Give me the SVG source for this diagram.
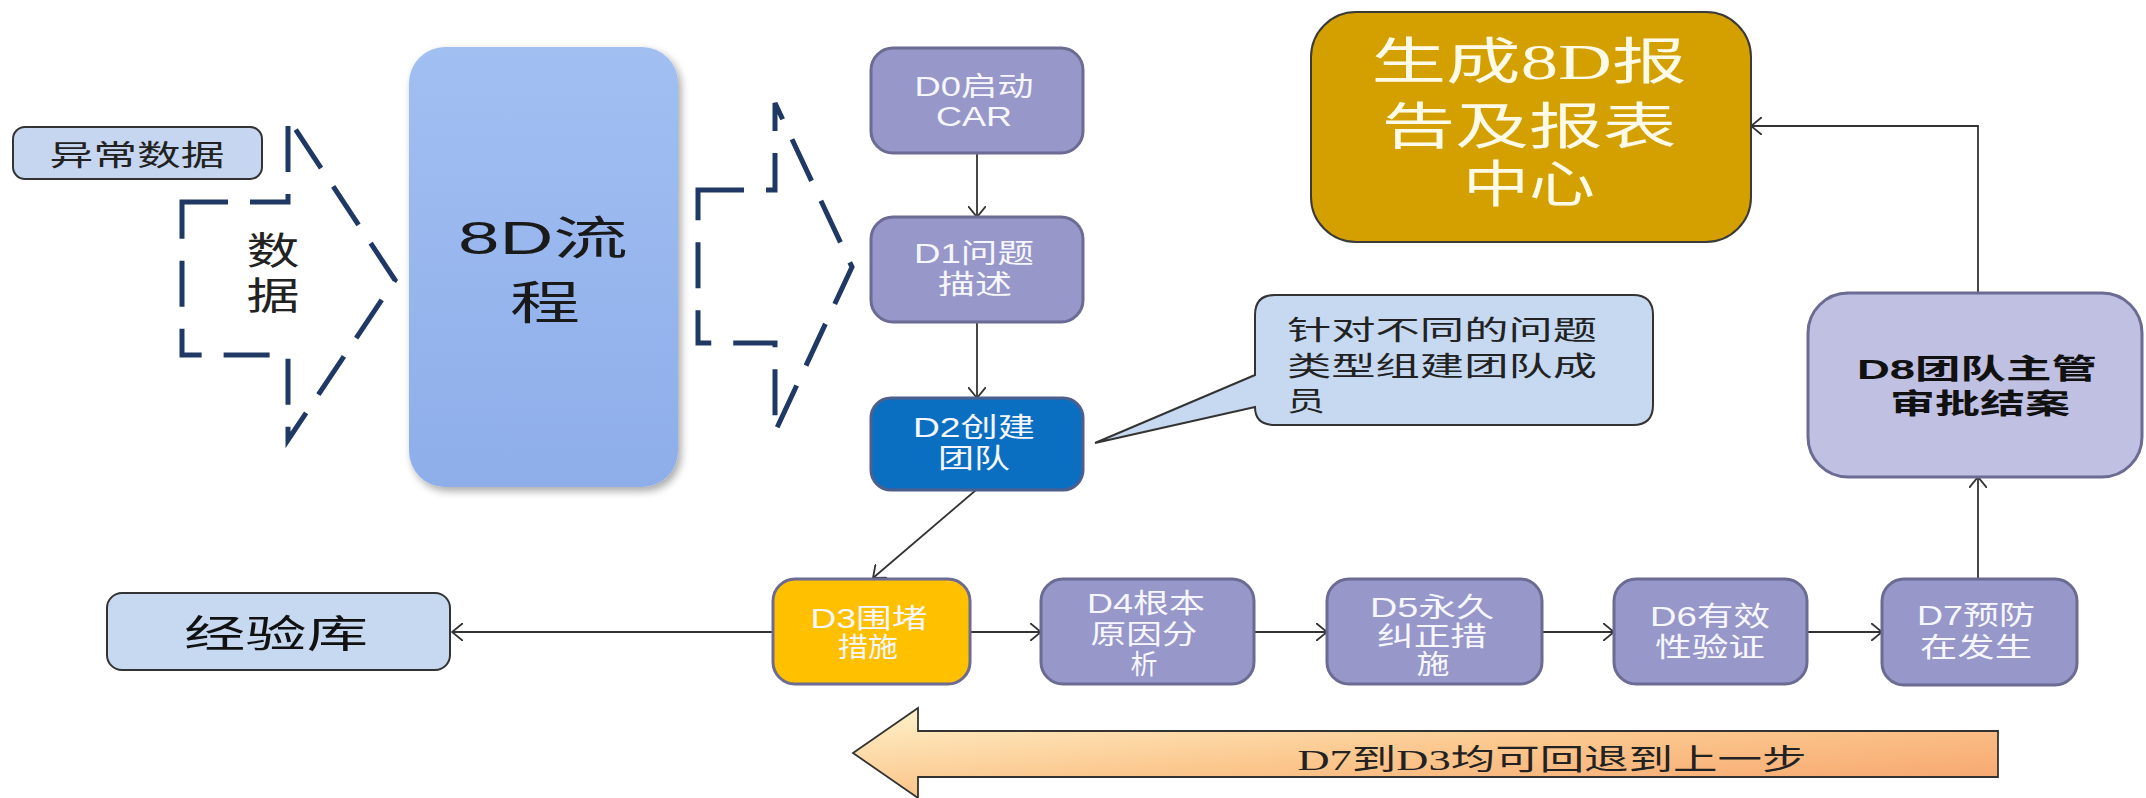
<svg xmlns="http://www.w3.org/2000/svg" width="2146" height="798" viewBox="0 0 2146 798">
<style>
.sans{font-family:"Liberation Sans","Noto Sans CJK SC",sans-serif}
.serif{font-family:"Liberation Serif","Noto Sans CJK SC",serif}
.wt{fill:#f6f6ff;font-size:27px;text-anchor:middle}
.pur{fill:#9797c9;stroke:#6b6b93;stroke-width:3}
.conn{stroke:#333;stroke-width:1.8;fill:none}
.dash{stroke:#1f3864;stroke-width:5;fill:none;stroke-dasharray:46 22;stroke-linejoin:miter}
</style>
<defs>
<marker id="ah" viewBox="0 0 12 18" refX="11" refY="9" markerWidth="12" markerHeight="18" markerUnits="userSpaceOnUse" orient="auto">
<path d="M0,0 L11,9 L0,18" fill="none" stroke="#333" stroke-width="1.8"/>
</marker>
<linearGradient id="g8d" x1="0" y1="0" x2="0" y2="1">
<stop offset="0" stop-color="#a2bff2"/>
<stop offset="1" stop-color="#8eaeea"/>
</linearGradient>
<linearGradient id="gbig" x1="0" y1="0" x2="1" y2="1">
<stop offset="0" stop-color="#fff3cc"/>
<stop offset="0.5" stop-color="#fbc68c"/>
<stop offset="1" stop-color="#f6a06a"/>
</linearGradient>
<filter id="sh" x="-10%" y="-10%" width="130%" height="130%">
<feGaussianBlur in="SourceAlpha" stdDeviation="4"/>
<feOffset dx="3" dy="4" result="b"/>
<feComponentTransfer><feFuncA type="linear" slope="0.35"/></feComponentTransfer>
<feMerge><feMergeNode/><feMergeNode in="SourceGraphic"/></feMerge>
</filter>
</defs>
<rect width="2146" height="798" fill="#fff"/>

<g id="connectors">
<line class="conn" x1="977" y1="153" x2="977" y2="217" marker-end="url(#ah)"/>
<line class="conn" x1="977" y1="322" x2="977" y2="398" marker-end="url(#ah)"/>
<line class="conn" x1="976" y1="490" x2="873" y2="578" marker-end="url(#ah)"/>
<line class="conn" x1="773" y1="632" x2="452" y2="632" marker-end="url(#ah)"/>
<line class="conn" x1="970" y1="632" x2="1041" y2="632" marker-end="url(#ah)"/>
<line class="conn" x1="1254" y1="632" x2="1327" y2="632" marker-end="url(#ah)"/>
<line class="conn" x1="1542" y1="632" x2="1614" y2="632" marker-end="url(#ah)"/>
<line class="conn" x1="1807" y1="632" x2="1882" y2="632" marker-end="url(#ah)"/>
<line class="conn" x1="1978" y1="580" x2="1978" y2="477" marker-end="url(#ah)"/>
<path class="conn" d="M1978,293 V126 H1751" marker-end="url(#ah)"/>
</g>

<g id="abnormal-data">
<rect x="13" y="127" width="249" height="52" rx="12" fill="#c6d6f0" stroke="#333" stroke-width="2"/>
<text class="sans" x="137" y="166" font-size="29" fill="#222" text-anchor="middle" textLength="175" lengthAdjust="spacingAndGlyphs">异常数据</text>
</g>

<g id="data-arrow">
<polygon class="dash" points="182,202 288,202 288,118 395,280 288,440 288,355 182,355"/>
<text class="sans" x="273" y="264" font-size="38" fill="#222" text-anchor="middle" textLength="53" lengthAdjust="spacingAndGlyphs">数</text>
<text class="sans" x="273" y="309" font-size="38" fill="#222" text-anchor="middle" textLength="53" lengthAdjust="spacingAndGlyphs">据</text>
</g>

<g id="process-8d">
<rect x="409" y="47" width="269" height="440" rx="36" fill="url(#g8d)" filter="url(#sh)"/>
<text class="sans" x="543" y="254" font-size="46" fill="#1a1a1a" text-anchor="middle" textLength="170" lengthAdjust="spacingAndGlyphs">8D流</text>
<text class="sans" x="545" y="319" font-size="46" fill="#1a1a1a" text-anchor="middle" textLength="70" lengthAdjust="spacingAndGlyphs">程</text>
</g>

<g id="steps-arrow">
<polygon class="dash" points="698,190 775,190 775,103 852,267 775,432 775,343 698,343"/>
</g>

<g id="d0">
<rect class="pur" x="871" y="48" width="212" height="105" rx="22"/>
<text class="sans wt" x="974" y="96" textLength="119" lengthAdjust="spacingAndGlyphs">D0启动</text>
<text class="sans wt" x="974" y="126" textLength="76" lengthAdjust="spacingAndGlyphs">CAR</text>
</g>

<g id="d1">
<rect class="pur" x="871" y="217" width="212" height="105" rx="22"/>
<text class="sans wt" x="974" y="263" textLength="120" lengthAdjust="spacingAndGlyphs">D1问题</text>
<text class="sans wt" x="975" y="294" textLength="74" lengthAdjust="spacingAndGlyphs">描述</text>
</g>

<g id="d2">
<rect x="871" y="398" width="212" height="92" rx="20" fill="#0b6fc1" stroke="#4d5f8c" stroke-width="3"/>
<text class="sans wt" x="974" y="437" textLength="122" lengthAdjust="spacingAndGlyphs">D2创建</text>
<text class="sans wt" x="974" y="468" textLength="72" lengthAdjust="spacingAndGlyphs">团队</text>
</g>

<g id="callout">
<path d="M1275,295 H1633 Q1653,295 1653,315 V405 Q1653,425 1633,425 H1275 Q1255,425 1255,407 L1095,443 L1255,375 V315 Q1255,295 1275,295 Z" fill="#c6d9f1" stroke="#333" stroke-width="2"/>
<text class="sans" x="1287" y="340" font-size="27" fill="#222" textLength="310" lengthAdjust="spacingAndGlyphs">针对不同的问题</text>
<text class="sans" x="1287" y="376" font-size="27" fill="#222" textLength="310" lengthAdjust="spacingAndGlyphs">类型组建团队成</text>
<text class="sans" x="1287" y="411" font-size="27" fill="#222" textLength="38" lengthAdjust="spacingAndGlyphs">员</text>
</g>

<g id="report">
<rect x="1311" y="12" width="440" height="230" rx="45" fill="#d3a000" stroke="#3a3a3a" stroke-width="2"/>
<text class="serif" x="1529" y="79" font-size="50" fill="#fffbe8" text-anchor="middle" textLength="315" lengthAdjust="spacingAndGlyphs">生成8D报</text>
<text class="serif" x="1529" y="144" font-size="50" fill="#fffbe8" text-anchor="middle" textLength="295" lengthAdjust="spacingAndGlyphs">告及报表</text>
<text class="serif" x="1529" y="202" font-size="50" fill="#fffbe8" text-anchor="middle" textLength="132" lengthAdjust="spacingAndGlyphs">中心</text>
</g>

<g id="d8">
<rect x="1808" y="293" width="334" height="184" rx="40" fill="#c0c0e2" stroke="#6b6b93" stroke-width="3"/>
<text class="sans" x="1977" y="379" font-size="28" font-weight="bold" fill="#111" text-anchor="middle" textLength="240" lengthAdjust="spacingAndGlyphs">D8团队主管</text>
<text class="sans" x="1980" y="414" font-size="28" font-weight="bold" fill="#111" text-anchor="middle" textLength="180" lengthAdjust="spacingAndGlyphs">审批结案</text>
</g>

<g id="experience">
<rect x="107" y="593" width="343" height="77" rx="15" fill="#c6d9f1" stroke="#333" stroke-width="2"/>
<text class="sans" x="276" y="647" font-size="38" fill="#111" text-anchor="middle" textLength="184" lengthAdjust="spacingAndGlyphs">经验库</text>
</g>

<g id="d3">
<rect x="773" y="579" width="197" height="105" rx="22" fill="#ffc000" stroke="#6b6b93" stroke-width="3"/>
<text class="sans wt" x="869" y="628" textLength="117" lengthAdjust="spacingAndGlyphs">D3围堵</text>
<text class="sans wt" x="868" y="657" textLength="60" lengthAdjust="spacingAndGlyphs">措施</text>
</g>

<g id="d4">
<rect class="pur" x="1041" y="579" width="213" height="105" rx="22"/>
<text class="sans wt" x="1146" y="613" textLength="118" lengthAdjust="spacingAndGlyphs">D4根本</text>
<text class="sans wt" x="1144" y="644" textLength="107" lengthAdjust="spacingAndGlyphs">原因分</text>
<text class="sans wt" x="1144" y="674" textLength="27" lengthAdjust="spacingAndGlyphs">析</text>
</g>

<g id="d5">
<rect class="pur" x="1327" y="579" width="215" height="105" rx="22"/>
<text class="sans wt" x="1432" y="617" textLength="124" lengthAdjust="spacingAndGlyphs">D5永久</text>
<text class="sans wt" x="1432" y="646" textLength="110" lengthAdjust="spacingAndGlyphs">纠正措</text>
<text class="sans wt" x="1433" y="674" textLength="33" lengthAdjust="spacingAndGlyphs">施</text>
</g>

<g id="d6">
<rect class="pur" x="1614" y="579" width="193" height="105" rx="22"/>
<text class="sans wt" x="1710" y="626" textLength="120" lengthAdjust="spacingAndGlyphs">D6有效</text>
<text class="sans wt" x="1710" y="657" textLength="110" lengthAdjust="spacingAndGlyphs">性验证</text>
</g>

<g id="d7">
<rect class="pur" x="1882" y="579" width="195" height="106" rx="22"/>
<text class="sans wt" x="1976" y="625" textLength="118" lengthAdjust="spacingAndGlyphs">D7预防</text>
<text class="sans wt" x="1976" y="657" textLength="112" lengthAdjust="spacingAndGlyphs">在发生</text>
</g>

<g id="rollback-arrow">
<polygon points="853,753 918,708 918,731 1998,731 1998,777 918,777 918,798" fill="url(#gbig)" stroke="#333" stroke-width="1.8"/>
<text class="serif" x="1552" y="770" font-size="29" fill="#222" text-anchor="middle" textLength="509" lengthAdjust="spacingAndGlyphs">D7到D3均可回退到上一步</text>
</g>
</svg>
